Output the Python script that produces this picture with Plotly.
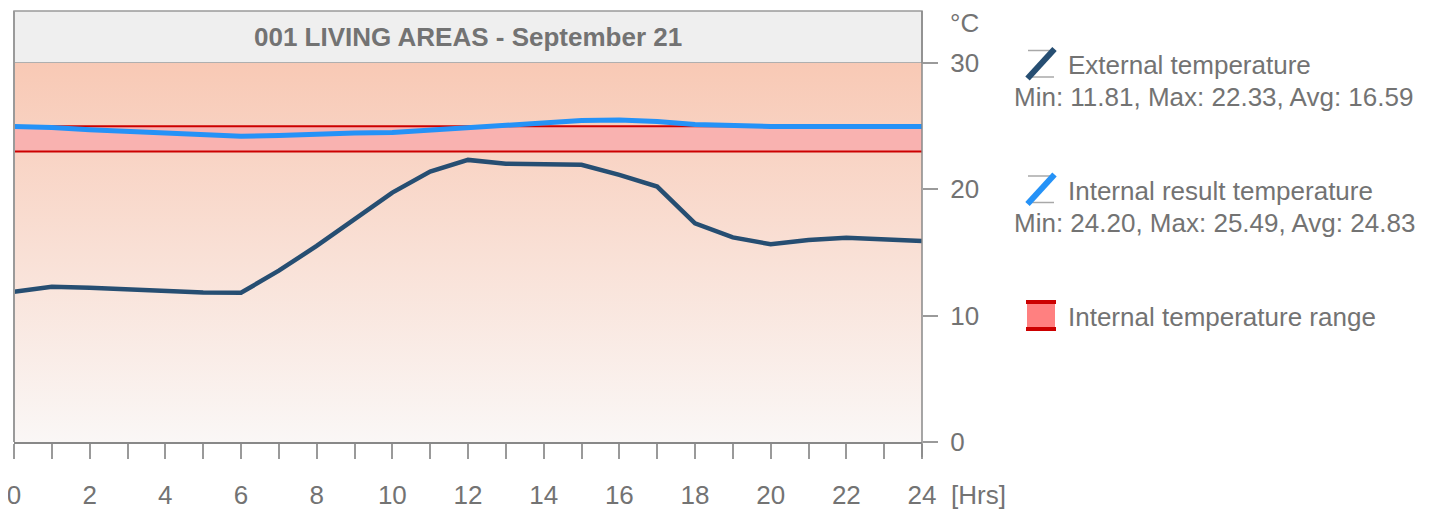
import plotly.graph_objects as go

# ---------------- data ----------------
hours = list(range(25))
external_temp = [11.89, 12.29, 12.21, 12.08, 11.92, 11.84, 11.81, 13.56, 15.52, 17.58,
                 19.74, 21.41, 22.33, 22.02, 21.99, 21.94, 21.14, 20.22, 17.31, 16.20,
                 15.65, 15.99, 16.17, 16.04, 15.91]
internal_temp = [24.98, 24.90, 24.71, 24.58, 24.45, 24.32, 24.20, 24.26, 24.40, 24.45,
                 24.50, 24.71, 24.92, 25.08, 25.27, 25.45, 25.49, 25.37, 25.13, 25.03,
                 24.98, 24.98, 24.98, 24.98, 24.98]
range_low = 23
range_high = 25
y_ticks = [0, 10, 20, 30]
x_ticks = list(range(0, 25, 2))
title_text = "001 LIVING AREAS - September 21"
legend_names = ["External temperature", "Internal result temperature", "Internal temperature range"]
legend_stats = ["Min: 11.81, Max: 22.33, Avg: 16.59", "Min: 24.20, Max: 25.49, Avg: 24.83"]

# ---------------- layout geometry ----------------
PAGE_OFF = 8  # default body margin of the html page
W, H = 1444 - PAGE_OFF, 512 - PAGE_OFF
ML, MR, MT, MB = 6, 522, 55, 70
PW, PH = W - ML - MR, H - MT - MB
FONT = "Liberation Sans, Arial, sans-serif"
FS = 26
GREY_TXT = "#737373"
GRID = "#9a9a9a"


def px(xp):
    """page x pixel -> paper coordinate"""
    return (xp - PAGE_OFF - ML) / PW


def py(yp):
    """page y pixel -> paper coordinate"""
    return (H - MB - (yp - PAGE_OFF)) / PH


fig = go.Figure()

# gradient background
fig.add_trace(go.Scatter(
    x=[hours[0], hours[-1]], y=[y_ticks[-1], y_ticks[-1]], mode="lines",
    line=dict(width=0), fill="tozeroy",
    fillgradient=dict(type="vertical", colorscale=[[0, "#faf7f6"], [1, "#f8c9b5"]]),
    hoverinfo="skip", showlegend=False))

# temperature range band
fig.add_trace(go.Scatter(x=hours, y=[range_low] * len(hours), mode="lines",
                         line=dict(color="#cc0000", width=2), showlegend=False))
fig.add_trace(go.Scatter(x=hours, y=[range_high] * len(hours), mode="lines",
                         line=dict(color="#cc0000", width=2), fill="tonexty",
                         fillcolor="#f9b2b0", showlegend=False))

# internal / external lines
fig.add_trace(go.Scatter(x=hours, y=internal_temp, mode="lines",
                         line=dict(color="#2592f7", width=5), showlegend=False))
fig.add_trace(go.Scatter(x=hours, y=external_temp, mode="lines",
                         line=dict(color="#264e72", width=4.5), showlegend=False))

shapes = []
annotations = []

# title box
shapes.append(dict(type="rect", xref="paper", yref="paper", x0=0, x1=1, y0=1, y1=py(11),
                   fillcolor="#efefef", line=dict(color=GRID, width=1.5), layer="below"))
annotations.append(dict(text=title_text, xref="paper", yref="paper", x=0.5, y=py(37),
                        showarrow=False, xanchor="center", yanchor="middle",
                        font=dict(family=FONT, size=FS, color=GREY_TXT, weight="bold")))
# left / right plot borders
shapes.append(dict(type="line", xref="paper", yref="paper", x0=0, x1=0, y0=0, y1=py(11),
                   line=dict(color=GRID, width=2)))
shapes.append(dict(type="line", xref="paper", yref="paper", x0=1, x1=1, y0=py(457), y1=py(11),
                   line=dict(color="#888888", width=1.5)))

# unit labels
annotations.append(dict(text="°C", xref="paper", yref="paper", x=px(948), y=py(23),
                        showarrow=False, xanchor="left", yanchor="middle",
                        font=dict(family=FONT, size=FS, color=GREY_TXT)))
annotations.append(dict(text="[Hrs]", xref="paper", yref="paper", x=px(949), y=py(495),
                        showarrow=False, xanchor="left", yanchor="middle",
                        font=dict(family=FONT, size=FS, color=GREY_TXT)))

# ---------------- custom legend ----------------
line_colors = ["#264e72", "#2592f7"]
icon_tops = [50.5, 176]
for i in range(2):
    t = icon_tops[i]
    b = t + 26.5
    shapes.append(dict(type="line", xref="paper", yref="paper", x0=px(1028), x1=px(1054),
                       y0=py(t), y1=py(t), line=dict(color="#a8a8a8", width=1.5)))
    shapes.append(dict(type="line", xref="paper", yref="paper", x0=px(1028), x1=px(1054),
                       y0=py(b), y1=py(b), line=dict(color="#a8a8a8", width=1.5)))
    shapes.append(dict(type="line", xref="paper", yref="paper", x0=px(1027.5), x1=px(1054.5),
                       y0=py(b + 1.5), y1=py(t - 1.5), line=dict(color=line_colors[i], width=6)))
    annotations.append(dict(text=legend_names[i], xref="paper", yref="paper", x=px(1066),
                            y=py(t + 14.5), showarrow=False, xanchor="left", yanchor="middle",
                            font=dict(family=FONT, size=FS, color=GREY_TXT)))
    annotations.append(dict(text=legend_stats[i], xref="paper", yref="paper", x=px(1012),
                            y=py(t + 46.5), showarrow=False, xanchor="left", yanchor="middle",
                            font=dict(family=FONT, size=FS, color=GREY_TXT)))

shapes.append(dict(type="rect", xref="paper", yref="paper", x0=px(1027), x1=px(1055),
                   y0=py(329), y1=py(302), fillcolor="#ff8080", line=dict(width=0)))
for yy in (302, 329):
    shapes.append(dict(type="line", xref="paper", yref="paper", x0=px(1026), x1=px(1056),
                       y0=py(yy), y1=py(yy), line=dict(color="#cc0000", width=4)))
annotations.append(dict(text=legend_names[2], xref="paper", yref="paper", x=px(1066),
                        y=py(317), showarrow=False, xanchor="left", yanchor="middle",
                        font=dict(family=FONT, size=FS, color=GREY_TXT)))

fig.update_layout(
    width=W, height=H,
    margin=dict(l=ML, r=MR, t=MT, b=MB, pad=0, autoexpand=False),
    paper_bgcolor="white", plot_bgcolor="white",
    font=dict(family=FONT, size=FS, color=GREY_TXT),
    shapes=shapes, annotations=annotations,
    showlegend=False,
    xaxis=dict(range=[hours[0], hours[-1]], tickvals=x_ticks, ticks="outside", ticklen=15,
               tickcolor=GRID, tickwidth=1.5, showgrid=False, zeroline=False,
               showline=True, linecolor="#888888", linewidth=2, automargin=False,
               ticklabelstandoff=14, ticklabeloverflow="allow",
               minor=dict(dtick=1, ticks="outside", ticklen=15, tickcolor=GRID, tickwidth=1.5,
                          showgrid=False),
               tickfont=dict(family=FONT, size=FS, color=GREY_TXT), fixedrange=True),
    yaxis=dict(range=[y_ticks[0], y_ticks[-1]], tickvals=y_ticks, side="right",
               ticks="outside", ticklen=15, tickcolor=GRID, tickwidth=1.5,
               showgrid=True, gridcolor=GRID, gridwidth=1.5, zeroline=False,
               showline=False, ticklabelstandoff=7, automargin=False,
               ticklabeloverflow="allow",
               tickfont=dict(family=FONT, size=FS, color=GREY_TXT), fixedrange=True),
)
fig.update_layout(yaxis_layer="above traces")

fig.write_html("out.html")
